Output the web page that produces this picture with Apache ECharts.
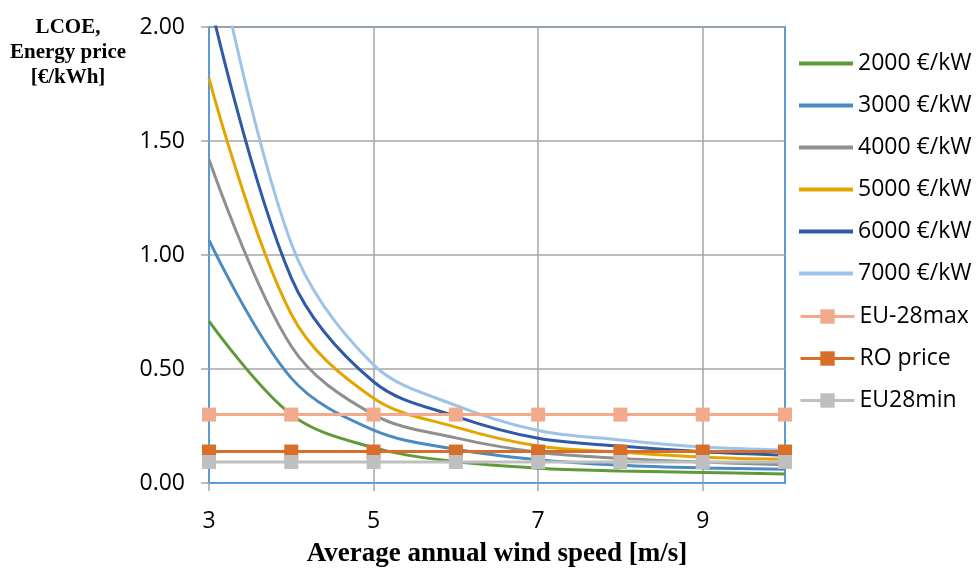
<!DOCTYPE html>
<html>
<head>
<meta charset="utf-8">
<script src="https://cdn.jsdelivr.net/npm/echarts@6/dist/echarts.min.js"></script>
<style>
html,body{margin:0;padding:0;background:#fff;}
#chart{width:979px;height:570px;}
</style>
</head>
<body>
<div id="chart"></div>
<script>
// Wind speed categories [m/s]
const windSpeeds = ['3', '4', '5', '6', '7', '8', '9', '10'];
// LCOE [€/kWh] for each specific investment cost
const lcoe2000 = [0.71, 0.30, 0.155, 0.094, 0.065, 0.053, 0.046, 0.040];
const lcoe3000 = [1.065, 0.46, 0.232, 0.148, 0.102, 0.078, 0.066, 0.060];
const lcoe4000 = [1.42, 0.60, 0.300, 0.198, 0.135, 0.108, 0.092, 0.080];
const lcoe5000 = [1.775, 0.74, 0.372, 0.245, 0.162, 0.135, 0.113, 0.104];
const lcoe6000 = [2.13, 0.90, 0.444, 0.292, 0.196, 0.162, 0.137, 0.122];
const lcoe7000 = [2.485, 1.05, 0.518, 0.340, 0.230, 0.189, 0.158, 0.145];
// Energy prices [€/kWh]
const eu28max = [0.30, 0.30, 0.30, 0.30, 0.30, 0.30, 0.30, 0.30];
const roPrice = [0.138, 0.138, 0.138, 0.138, 0.138, 0.138, 0.138, 0.138];
const eu28min = [0.092, 0.092, 0.092, 0.092, 0.092, 0.092, 0.092, 0.092];
const curveNames = ['2000 €/kW', '3000 €/kW', '4000 €/kW', '5000 €/kW', '6000 €/kW', '7000 €/kW'];
const priceNames = ['EU-28max', 'RO price', 'EU28min'];
const yTicks = [0, 0.5, 1.0, 1.5, 2.0];

const curveData = [lcoe2000, lcoe3000, lcoe4000, lcoe5000, lcoe6000, lcoe7000];
const curveColors = ['#5F9A3A', '#4B8BC0', '#8F8F8F', '#E3A600', '#2F5AA6', '#9DC3E6'];
const priceData = [eu28max, roPrice, eu28min];
const priceColors = ['#F2AA8C', '#D76F2A', '#BFBFBF'];

const series = [];
curveData.forEach((d, i) => {
  series.push({
    name: curveNames[i], type: 'line', data: d, smooth: 0.35,
    symbol: 'none', clip: true,
    lineStyle: {color: curveColors[i], width: 3},
    itemStyle: {color: curveColors[i]}
  });
});
priceData.forEach((d, i) => {
  series.push({
    name: priceNames[i], type: 'line', data: d,
    symbol: 'rect', symbolSize: 14, showSymbol: true,
    lineStyle: {color: priceColors[i], width: 3},
    itemStyle: {color: priceColors[i]}
  });
});

const legendText = {fontFamily: 'Open Sans', fontSize: 23, color: '#000'};
const chart = echarts.init(document.getElementById('chart'), null, {renderer: 'canvas'});
chart.setOption({
  animation: false,
  backgroundColor: '#fff',
  grid: {left: 209, right: 194, top: 27, bottom: 87, show: true, borderColor: '#5B9BD5', borderWidth: 2, containLabel: false, outerBoundsMode: 'none'},
  graphic: [{
    type: 'text', x: 68, y: 15,
    style: {text: 'LCOE,\nEnergy price\n[€/kWh]', fontFamily: 'Liberation Serif', fontWeight: 'bold', fontSize: 21, lineHeight: 25, align: 'center', verticalAlign: 'top', fill: '#000'}
  }],
  legend: [{
    orient: 'vertical', left: 799, top: 52, padding: 0, itemWidth: 54, itemHeight: 4, itemGap: 19,
    icon: 'rect', textStyle: legendText, data: curveNames
  }, {
    orient: 'vertical', left: 799, top: 305, padding: 0, itemWidth: 54, itemHeight: 18, itemGap: 19,
    lineStyle: {width: 3}, textStyle: legendText, data: priceNames
  }],
  xAxis: {
    type: 'category', data: windSpeeds, boundaryGap: false,
    name: 'Average annual wind speed [m/s]', nameLocation: 'middle', nameGap: 58,
    nameTextStyle: {fontFamily: 'Liberation Serif', fontWeight: 'bold', fontSize: 27, color: '#000'},
    axisLine: {show: true, lineStyle: {color: '#5B9BD5', width: 2}},
    axisTick: {show: true, interval: 1, length: 8, lineStyle: {color: '#A6A6A6', width: 1.5}},
    axisLabel: {interval: 1, margin: 27, fontFamily: 'Open Sans', fontSize: 23, color: '#000'},
    splitLine: {show: true, interval: 1, lineStyle: {color: '#A6A6A6', width: 1.5}}
  },
  yAxis: {
    type: 'value', min: yTicks[0], max: yTicks[yTicks.length - 1], interval: 0.5,
    axisLine: {show: true, lineStyle: {color: '#5B9BD5', width: 2}},
    axisTick: {show: true, length: 8, lineStyle: {color: '#A6A6A6', width: 1.5}},
    axisLabel: {margin: 24, fontFamily: 'Open Sans', fontSize: 23, color: '#000', formatter: v => v.toFixed(2)},
    splitLine: {show: true, lineStyle: {color: '#A6A6A6', width: 1.5}}
  },
  series: series
});
</script>
</body>
</html>
